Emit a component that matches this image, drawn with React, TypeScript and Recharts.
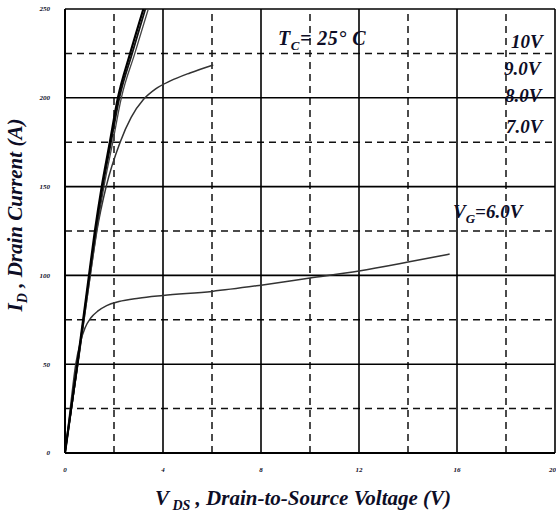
import { LineChart, Line, XAxis, YAxis, ReferenceLine } from "recharts";

// Output characteristics, I_D (A) vs V_DS (V), one curve per gate voltage.
const vg10 = [
  { v: 0, i: 0 }, { v: 0.5, i: 50 }, { v: 0.98, i: 100 }, { v: 1.22, i: 125 },
  { v: 1.5, i: 150 }, { v: 1.83, i: 175 }, { v: 2.16, i: 200 }, { v: 2.66, i: 225 }, { v: 3.2, i: 250 },
];
const vg9 = [
  { v: 0, i: 0 }, { v: 0.51, i: 50 }, { v: 1.0, i: 100 }, { v: 1.25, i: 125 }, { v: 1.54, i: 150 },
  { v: 1.88, i: 175 }, { v: 2.22, i: 200 }, { v: 2.74, i: 225 }, { v: 3.28, i: 250 },
];
const vg8 = [
  { v: 0, i: 0 }, { v: 0.53, i: 50 }, { v: 1.03, i: 100 }, { v: 1.29, i: 125 }, { v: 1.59, i: 150 },
  { v: 1.95, i: 175 }, { v: 2.3, i: 200 }, { v: 2.85, i: 225 }, { v: 3.4, i: 250 },
];
const vg7 = [
  { v: 0, i: 0 }, { v: 0.52, i: 50 }, { v: 1.03, i: 100 }, { v: 1.3, i: 125 },
  { v: 1.68, i: 150 }, { v: 2.25, i: 175 }, { v: 2.7, i: 189 }, { v: 3.2, i: 199 },
  { v: 3.7, i: 205 }, { v: 4.3, i: 209.5 }, { v: 5.1, i: 214 }, { v: 6.05, i: 218.5 },
];
const vg6 = [
  { v: 0, i: 0 }, { v: 0.2, i: 23 }, { v: 0.44, i: 50 }, { v: 0.62, i: 62 },
  { v: 0.82, i: 70.5 }, { v: 1.05, i: 76 }, { v: 1.35, i: 80 }, { v: 1.7, i: 83 },
  { v: 2.2, i: 85.3 }, { v: 3, i: 87.2 }, { v: 4, i: 88.7 }, { v: 6, i: 91 },
  { v: 8, i: 94.5 }, { v: 10, i: 98.5 }, { v: 12, i: 102.5 }, { v: 14, i: 107.5 }, { v: 15.7, i: 112 },
];

const xTicks = [0, 4, 8, 12, 16, 20];
const yTicks = [0, 50, 100, 150, 200, 250];
const xMajor = [4, 8, 12, 16, 20];
const xMinor = [2, 6, 10, 14, 18];
const yMajor = [50, 100, 150, 200, 250];
const yMinor = [25, 75, 125, 175, 225];

const serif = "'Liberation Serif', 'DejaVu Serif', serif";
const ink = "#0d0d26";
const tickStyle = { fontFamily: serif, fontSize: 7, fontStyle: "italic", fontWeight: 700, fill: ink };

export default function App() {
  return (
    <div style={{ position: "absolute", left: 0, top: 0, width: 556, height: 512, background: "#fff" }}>
      <LineChart width={556} height={512} margin={{ top: 9, right: 1, bottom: 29, left: 0 }}>
        <XAxis
          dataKey="v"
          type="number"
          domain={[0, 20]}
          ticks={xTicks}
          allowDataOverflow
          height={30}
          tickLine={false}
          axisLine={{ stroke: "#000", strokeWidth: 2 }}
          tick={tickStyle}
          tickMargin={8}
        />
        <YAxis
          dataKey="i"
          type="number"
          domain={[0, 250]}
          ticks={yTicks}
          allowDataOverflow
          width={65}
          tickLine={false}
          axisLine={{ stroke: "#000", strokeWidth: 2 }}
          tick={tickStyle}
          tickMargin={9}
        />
        {xMinor.map((x) => (
          <ReferenceLine key={"xm" + x} x={x} stroke="#111" strokeWidth={1.5} strokeDasharray="7 5" />
        ))}
        {yMinor.map((y) => (
          <ReferenceLine key={"ym" + y} y={y} stroke="#111" strokeWidth={1.5} strokeDasharray="7 5" />
        ))}
        {xMajor.map((x) => (
          <ReferenceLine key={"xM" + x} x={x} stroke="#000" strokeWidth={1.6} />
        ))}
        {yMajor.map((y) => (
          <ReferenceLine key={"yM" + y} y={y} stroke="#000" strokeWidth={1.6} />
        ))}
        <Line data={vg6} dataKey="i" type="monotone" stroke="#333" strokeWidth={1.5} dot={false} isAnimationActive={false} />
        <Line data={vg7} dataKey="i" type="monotone" stroke="#333" strokeWidth={1.5} dot={false} isAnimationActive={false} />
        <Line data={vg8} dataKey="i" type="monotone" stroke="#444" strokeWidth={1.3} dot={false} isAnimationActive={false} />
        <Line data={vg9} dataKey="i" type="monotone" stroke="#111" strokeWidth={1.8} dot={false} isAnimationActive={false} />
        <Line data={vg10} dataKey="i" type="monotone" stroke="#000" strokeWidth={2.2} dot={false} isAnimationActive={false} />
      </LineChart>
      <svg
        width={556}
        height={512}
        style={{ position: "absolute", left: 0, top: 0, pointerEvents: "none" }}
        fontFamily={serif}
        fontStyle="italic"
        fontWeight={700}
        fill={ink}
      >
        <text x={278} y={45} fontSize={20} letterSpacing={0.5}>
          T<tspan fontSize={13} dy={5}>C</tspan>
          <tspan dy={-5}>= 25° C</tspan>
        </text>
        <text x={511} y={48} fontSize={19}>10V</text>
        <text x={504} y={75} fontSize={19}>9.0V</text>
        <text x={505} y={102} fontSize={19}>8.0V</text>
        <text x={506} y={133} fontSize={19}>7.0V</text>
        <text x={453} y={218} fontSize={19}>
          V<tspan fontSize={13} dy={5}>G</tspan>
          <tspan dy={-5}>=6.0V</tspan>
        </text>
        <text x={303} y={505} fontSize={21} textAnchor="middle">
          V<tspan fontSize={14} dy={5}> DS</tspan>
          <tspan dy={-5}> , Drain-to-Source Voltage (V)</tspan>
        </text>
        <text x={22} y={215} fontSize={21} textAnchor="middle" transform="rotate(-90 22 215)">
          I<tspan fontSize={14} dy={5}>D</tspan>
          <tspan dy={-5}> , Drain Current (A)</tspan>
        </text>
      </svg>
    </div>
  );
}
